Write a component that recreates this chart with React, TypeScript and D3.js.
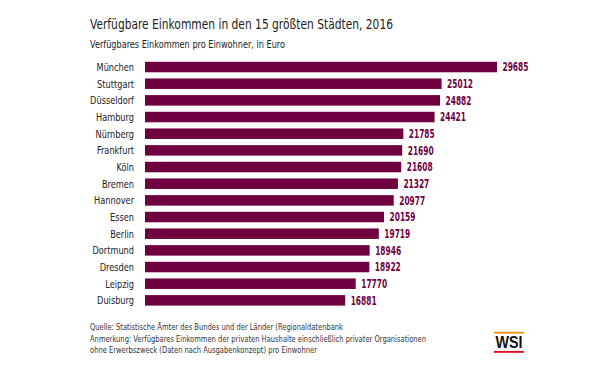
import React from "react";
import * as d3 from "d3";

const cities = ["München","Stuttgart","Düsseldorf","Hamburg","Nürnberg","Frankfurt","Köln","Bremen","Hannover","Essen","Berlin","Dortmund","Dresden","Leipzig","Duisburg"];
const incomes = [29685,25012,24882,24421,21785,21690,21608,21327,20977,20159,19719,18946,18922,17770,16881];
const title = "Verfügbare Einkommen in den 15 größten Städten, 2016";
const subtitle = "Verfügbares Einkommen pro Einwohner, in Euro";
const notes = [
  "Quelle: Statistische Ämter des Bundes und der Länder (Regionaldatenbank",
  "Anmerkung: Verfügbares Einkommen der privaten Haushalte einschließlich privater Organisationen",
  "ohne Erwerbszweck (Daten nach Ausgabenkonzept) pro Einwohner",
];
const noteWidths = [253, 336, 227];

const W = 600, H = 379;
const FONT = "'DejaVu Sans Condensed', 'Liberation Sans Narrow', 'Arial Narrow', sans-serif";
const BAR = "#6f0040";

export default function App() {
  const x = d3.scaleLinear().domain([0, d3.max(incomes)!]).range([145, 497]);
  const y = d3.scaleBand<string>().domain(cities).range([58.7, 308.7]).paddingInner(0.37).paddingOuter(0.185);
  return (
    <svg width={W} height={H} style={{ position: "absolute", left: 0, top: 0, background: "#fff" }} fontFamily={FONT}>
      <rect width={W} height={H} fill="#fff" />
      <text x={90} y={28.5} fontSize={14.5} fill="#222" textLength={303} lengthAdjust="spacingAndGlyphs">{title}</text>
      <text x={90} y={47.5} fontSize={10} fill="#222" textLength={195} lengthAdjust="spacingAndGlyphs">{subtitle}</text>
      {cities.map((c, i) => {
        const yy = y(c)!;
        const cy = yy + y.bandwidth() / 2;
        return (
          <g key={c}>
            <rect x={x(0)} y={yy} width={x(incomes[i]) - x(0)} height={y.bandwidth()} fill={BAR} />
            <text transform={`translate(134,${cy}) scale(0.83,1)`} dy="0.36em" textAnchor="end" fontSize={11} fill="#222">{c}</text>
            <text transform={`translate(${x(incomes[i]) + 5.5},${cy}) scale(0.72,1)`} dy="0.36em" fontSize={11.5} fontWeight="bold" fill={BAR}>{incomes[i]}</text>
          </g>
        );
      })}
      {notes.map((n, i) => (
        <text key={i} x={90} y={330 + i * 11.5} fontSize={9} fill="#333" textLength={noteWidths[i]} lengthAdjust="spacingAndGlyphs">{n}</text>
      ))}
      <g>
        <rect x={494} y={331.8} width={30} height={1.8} fill="#f39200" />
        <text x={509} y={348.3} textAnchor="middle" fontSize={16.5} fontWeight="bold" fontFamily="'Liberation Sans', Arial, sans-serif" fill="#111" textLength={27} lengthAdjust="spacingAndGlyphs">WSI</text>
        <rect x={494} y={351} width={30} height={1.8} fill="#e30613" />
      </g>
    </svg>
  );
}
